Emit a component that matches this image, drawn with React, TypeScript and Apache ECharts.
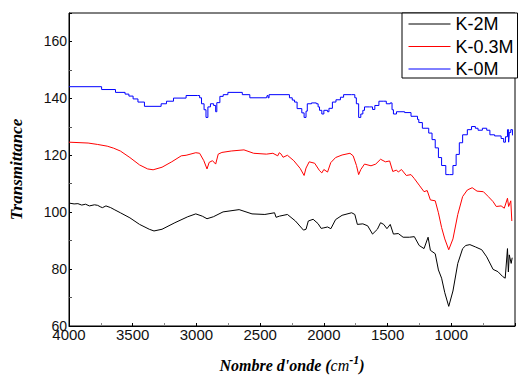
import React, { useEffect, useRef } from "react";
import * as echarts from "echarts";

const seriesNames = ["K-2M", "K-0.3M", "K-0M"];
const seriesColors = ["#000000", "#ff0000", "#0000ff"];
const xTickLabels = [4000, 3500, 3000, 2500, 2000, 1500, 1000];
const yTickLabels = [60, 80, 100, 120, 140, 160];

const k2M: number[][] = [
  [4000, 103.2], [3960, 102.9], [3930, 103], [3900, 102.5], [3870, 102.8], [3840, 102.2],
  [3800, 102.6], [3775, 102.4], [3750, 101.8], [3737, 101.6], [3710, 102.2], [3673, 101.6],
  [3640, 100.8], [3597, 99.8], [3522, 98], [3446, 95.7], [3370, 94], [3333, 93.4], [3270, 94],
  [3169, 96.3], [3068, 98.4], [3005, 99.4], [2954, 98.6], [2917, 97.7], [2867, 98.4],
  [2791, 100.1], [2665, 100.9], [2564, 99.4], [2463, 99.2], [2387, 99.8], [2375, 98.2],
  [2349, 98.6], [2286, 99.2], [2223, 96.9], [2160, 93.7], [2140, 94], [2122, 96.9],
  [2084, 97.5], [2046, 96], [2021, 94.3], [2000, 94.5], [1971, 94.8], [1945, 94.2],
  [1908, 97.4], [1857, 98.9], [1782, 99.8], [1757, 99.2], [1737, 95.7], [1694, 95.9],
  [1656, 95.2], [1618, 92.3], [1580, 94], [1555, 96.3], [1530, 95.7], [1505, 94.2],
  [1479, 95.7], [1454, 92.3], [1416, 92.5], [1378, 91.2], [1328, 91.2], [1290, 91.4],
  [1252, 88.3], [1214, 87.2], [1182, 91.2], [1164, 86.6], [1126, 85.4], [1101, 79.7],
  [1076, 76.8], [1051, 71.7], [1020, 66.9], [987, 72.3], [949, 82], [911, 87.2], [886, 88.3],
  [854, 88.6], [811, 87.8], [761, 86.8], [722, 84.3], [672, 79.9], [634, 79.1], [597, 77.4],
  [577, 76.8], [559, 87.2], [552, 79], [545, 85], [530, 82], [522, 84],
];

const k03M: number[][] = [
  [4000, 124.6], [3850, 124.3], [3775, 123.8], [3700, 123.2], [3650, 122.5], [3597, 121.5],
  [3522, 119.2], [3446, 116.6], [3383, 115.2], [3340, 114.9], [3270, 115.8], [3194, 117.7],
  [3119, 119.8], [3081, 120], [3005, 120.9], [2975, 120.7], [2942, 118.1], [2917, 115.2],
  [2900, 117.5], [2874, 118.1], [2849, 116.9], [2829, 120.4], [2800, 121], [2727, 121.5],
  [2627, 121.9], [2551, 120.7], [2451, 120.4], [2400, 120.7], [2362, 119.8], [2350, 120.9],
  [2337, 120.5], [2320, 119.3], [2286, 120], [2236, 118.1], [2186, 115.4], [2155, 112.9],
  [2140, 115.5], [2115, 117.7], [2072, 117.2], [2034, 114.6], [2016, 113.8], [2000, 115],
  [1971, 114.1], [1946, 117.4], [1908, 119.2], [1857, 120.1], [1795, 120.7], [1770, 119.8],
  [1744, 116.4], [1727, 113.2], [1710, 115], [1681, 116.9], [1630, 116.3], [1593, 116.9],
  [1555, 118.6], [1517, 117.7], [1484, 118], [1459, 114.3], [1430, 114.8], [1416, 114.1],
  [1391, 115], [1353, 112.9], [1316, 113.2], [1290, 111.8], [1252, 109.5], [1214, 107.2],
  [1189, 107.6], [1164, 104.3], [1126, 104], [1101, 99.8], [1076, 94.6], [1051, 90.6],
  [1020, 86.8], [987, 90.6], [949, 99.2], [911, 105.5], [874, 107.8], [836, 108.6],
  [798, 107.4], [748, 107.2], [710, 105.5], [672, 103.7], [647, 102], [609, 102.2],
  [584, 101.4], [559, 104.9], [550, 102], [533, 104], [525, 96.9],
];

const k0M: number[][] = [
  [4000, 144.1], [3744, 143.1], [3635, 142.1], [3560, 141.5], [3530, 140.8], [3497, 139.8],
  [3459, 138.7], [3408, 137.2], [3277, 138.1], [3235, 139], [3180, 140.1], [3081, 141],
  [2990, 141], [2975, 140.2], [2960, 138.1], [2940, 136], [2925, 133.3], [2910, 137],
  [2890, 138.1], [2865, 137.5], [2849, 135.3], [2840, 138.5], [2816, 140.7], [2790, 141.3],
  [2753, 142.1], [2640, 141.3], [2581, 140.2], [2450, 140.2], [2445, 141], [2438, 140.2],
  [2430, 141.3], [2270, 140.2], [2248, 139.4], [2230, 138.7], [2210, 136.4], [2173, 134.9],
  [2155, 133.3], [2140, 135.5], [2130, 138.1], [2097, 138.4], [2059, 138.1], [2045, 137],
  [2034, 135.8], [2016, 134.5], [2000, 135.8], [1971, 135.3], [1960, 136.5], [1933, 138.7],
  [1905, 139.5], [1870, 140.4], [1845, 141.3], [1782, 141.3], [1757, 140.2], [1745, 138.1],
  [1727, 133.3], [1710, 134.5], [1694, 135.8], [1681, 137], [1643, 137], [1618, 136.1],
  [1600, 137.5], [1568, 139], [1530, 139], [1510, 138.1], [1479, 138.4], [1465, 136],
  [1454, 134.5], [1430, 135.3], [1366, 135], [1316, 133.7], [1265, 132.6], [1255, 131.5],
  [1227, 129.5], [1177, 127.8], [1151, 125.5], [1126, 122.6], [1101, 119.2], [1076, 116.4],
  [1043, 113.2], [1013, 113.2], [987, 116.4], [962, 120.3], [937, 124.4], [911, 127.2],
  [874, 129], [841, 130.1], [811, 129.5], [790, 128.8], [756, 129.5], [722, 128.8],
  [697, 127.2], [660, 126.8], [609, 125.9], [589, 124.6], [575, 126.5], [559, 129],
  [550, 124.6], [545, 128], [533, 129], [520, 127],
];

const sans = "'Liberation Sans', Arial, sans-serif";
const serif = "'Liberation Serif', 'Times New Roman', serif";

export default function App() {
  const ref = useRef<HTMLDivElement>(null);
  useEffect(() => {
    if (!ref.current) return;
    const chart = echarts.init(ref.current, undefined, { renderer: "svg" });
    const dataSets = [k2M, k03M, k0M];
    chart.setOption({
      animation: false,
      backgroundColor: "#fff",
      grid: { left: 58, top: 13, bottom: 44, right: -3, show: true, borderColor: "#000", borderWidth: 1 },
      legend: {
        data: seriesNames,
        orient: "vertical",
        left: 402,
        top: 13,
        borderColor: "#000",
        borderWidth: 1,
        backgroundColor: "#fff",
        padding: [2, 4, 0, 6],
        itemGap: 4.5,
        itemWidth: 42,
        itemHeight: 14,
        itemStyle: { opacity: 0 },
        lineStyle: { width: 1 },
        textStyle: { fontFamily: sans, fontSize: 18, color: "#000" },
      },
      xAxis: {
        type: "value",
        inverse: true,
        min: 500,
        max: 4000,
        interval: 500,
        name: "{t|Nombre d'onde (}{c|cm}{s|-1}{t|)}",
        nameLocation: "middle",
        nameGap: 28,
        nameTextStyle: {
          rich: {
            t: { fontFamily: serif, fontStyle: "italic", fontWeight: "bold", fontSize: 16, color: "#000", lineHeight: 22 },
            c: { fontFamily: serif, fontStyle: "italic", fontSize: 16, color: "#000", lineHeight: 22 },
            s: { fontFamily: serif, fontStyle: "italic", fontWeight: "bold", fontSize: 12, color: "#000", verticalAlign: "top", lineHeight: 12 },
          },
        },
        axisLine: { lineStyle: { color: "#000", width: 1 } },
        axisTick: { inside: true, length: 3, lineStyle: { color: "#000" } },
        minorTick: { show: true, splitNumber: 2, length: 3, lineStyle: { color: "#888" } },
        splitLine: { show: false },
        axisLabel: {
          fontFamily: sans,
          fontSize: 15,
          color: "#111",
          margin: 1,
          formatter: (v: number) => (xTickLabels.indexOf(v) >= 0 ? String(v) : ""),
        },
      },
      yAxis: {
        type: "value",
        min: 60,
        max: 170,
        interval: 20,
        name: "Transmittance",
        nameLocation: "middle",
        nameGap: 44,
        nameTextStyle: { fontFamily: serif, fontStyle: "italic", fontWeight: "bold", fontSize: 17, color: "#000" },
        axisLine: { lineStyle: { color: "#000", width: 1 } },
        axisTick: { inside: true, length: 3, lineStyle: { color: "#000" } },
        minorTick: { show: true, splitNumber: 2, length: 3, lineStyle: { color: "#555" } },
        splitLine: { show: false },
        axisLabel: {
          fontFamily: sans,
          fontSize: 14,
          color: "#111",
          margin: 2,
          formatter: (v: number) => (yTickLabels.indexOf(v) >= 0 ? String(v) : ""),
        },
      },
      series: seriesNames.map((n, i) => ({
        name: n,
        type: "line",
        data: dataSets[i],
        symbol: "none",
        step: i === 2 ? "end" : false,
        color: seriesColors[i],
        lineStyle: { color: seriesColors[i], width: 1 },
        itemStyle: { color: seriesColors[i] },
      })),
    });
    return () => chart.dispose();
  }, []);
  return <div ref={ref} style={{ position: "absolute", left: 0, top: 0, width: 518, height: 378 }} />;
}
